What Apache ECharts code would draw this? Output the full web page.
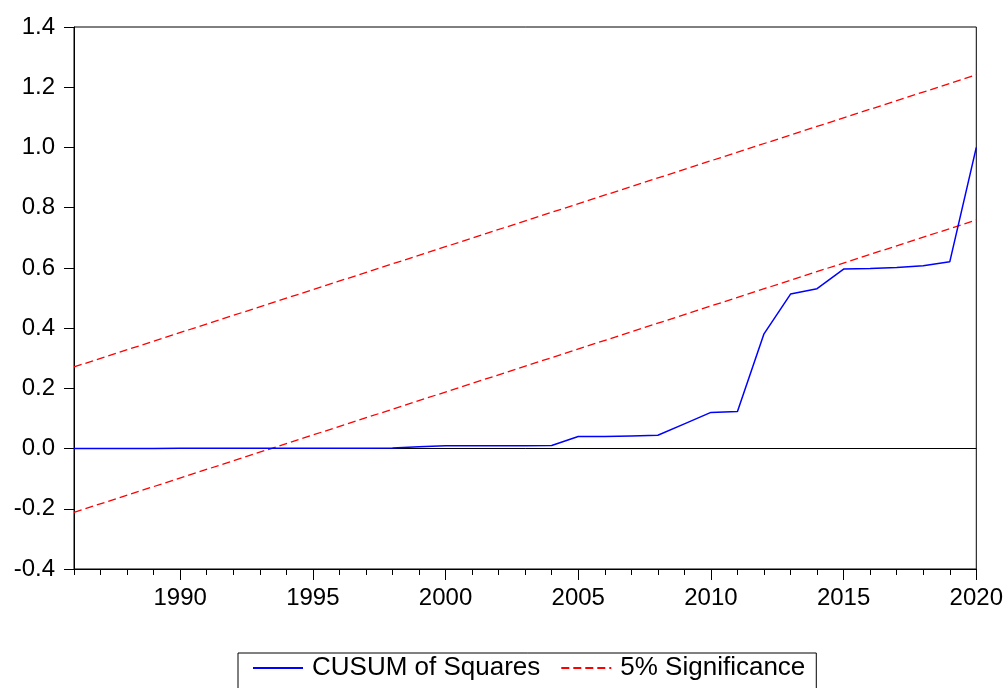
<!DOCTYPE html>
<html>
<head>
<meta charset="utf-8">
<script src="https://cdn.jsdelivr.net/npm/echarts@6/dist/echarts.min.js"></script>
<style>
html,body{margin:0;padding:0;background:#fff;}
#chart{width:1006px;height:688px;}
</style>
</head>
<body>
<div id="chart"></div>
<script>
var years = [1986,1987,1988,1989,1990,1991,1992,1993,1994,1995,1996,1997,1998,1999,2000,2001,2002,2003,2004,2005,2006,2007,2008,2009,2010,2011,2012,2013,2014,2015,2016,2017,2018,2019,2020];
var cusumSq = [0.000,0.000,0.000,0.000,0.001,0.001,0.001,0.001,0.001,0.001,0.001,0.001,0.002,0.006,0.009,0.009,0.009,0.009,0.010,0.040,0.040,0.042,0.044,0.082,0.120,0.123,0.381,0.513,0.531,0.596,0.598,0.601,0.607,0.620,1.000];
var sigYears = [1986, 2020];
var upperBand = [0.271, 1.241];
var lowerBand = [-0.212, 0.759];
var xTickLabels = [1990,1995,2000,2005,2010,2015,2020];

var FONT = 'Liberation Sans, Arial, sans-serif';
var chart = echarts.init(document.getElementById('chart'), null, {renderer:'canvas'});

function pairs(xs, ys){ return xs.map(function(x,i){return [x, ys[i]];}); }

var option = {
  animation: false,
  backgroundColor: '#fff',
  grid: {left:74, right:28, top:27, bottom:119, show:true, borderColor:'#000', borderWidth:1, backgroundColor:'transparent'},
  legend: {
    left: 238, top: 653,
    data: ['CUSUM of Squares','5% Significance'],
    borderColor:'#000', borderWidth:1,
    padding:[2,11,12,14],
    itemWidth:50, itemHeight:14, itemGap:20,
    itemStyle:{opacity:0},
    textStyle:{fontSize:26, color:'#000', fontFamily:FONT, padding:[0,0,0,4]}
  },
  xAxis: [{
    type:'value', min:years[0], max:years[years.length-1],
    axisLine:{show:true, onZero:false, lineStyle:{color:'#000', width:1}},
    axisTick:{show:true, inside:false, length:11, customValues:xTickLabels, lineStyle:{color:'#000', width:1}},
    axisLabel:{show:true, customValues:xTickLabels, margin:17, fontSize:24, color:'#000', fontFamily:FONT,
      formatter:function(v){return String(v);}},
    splitLine:{show:false}
  },{
    type:'value', min:years[0], max:years[years.length-1], position:'bottom',
    axisLine:{show:false, onZero:false},
    axisTick:{show:true, inside:false, length:6, customValues:years, lineStyle:{color:'#000', width:1}},
    axisLabel:{show:false},
    splitLine:{show:false}
  }],
  yAxis: {
    type:'value', min:-0.4, max:1.4, interval:0.2,
    axisLine:{show:true, onZero:false, lineStyle:{color:'#000', width:1}},
    axisTick:{show:true, inside:false, length:10, lineStyle:{color:'#000', width:1}},
    axisLabel:{margin:19, fontSize:24, color:'#000', fontFamily:FONT,
      formatter:function(v){return (Math.round(v*10)/10).toFixed(1);}},
    splitLine:{show:false}
  },
  series: [{
    name:'CUSUM of Squares', type:'line', xAxisIndex:0, symbol:'none', z:5,
    data: pairs(years, cusumSq),
    lineStyle:{color:'#0000ff', width:1.5},
    itemStyle:{color:'#0000ff'},
    markLine:{silent:true, symbol:'none', label:{show:false},
      lineStyle:{color:'#000', width:1, type:'solid'},
      data:[{yAxis:0}], z:1}
  },{
    name:'5% Significance', type:'line', xAxisIndex:0, symbol:'none', z:4,
    data: pairs(sigYears, upperBand),
    lineStyle:{color:'#ff0000', width:1.3, type:[8,4]},
    itemStyle:{color:'#ff0000'}
  },{
    name:'5% Significance', type:'line', xAxisIndex:0, symbol:'none', z:4,
    data: pairs(sigYears, lowerBand),
    lineStyle:{color:'#ff0000', width:1.3, type:[8,4]},
    itemStyle:{color:'#ff0000'}
  }]
};
chart.setOption(option);
</script>
</body>
</html>
